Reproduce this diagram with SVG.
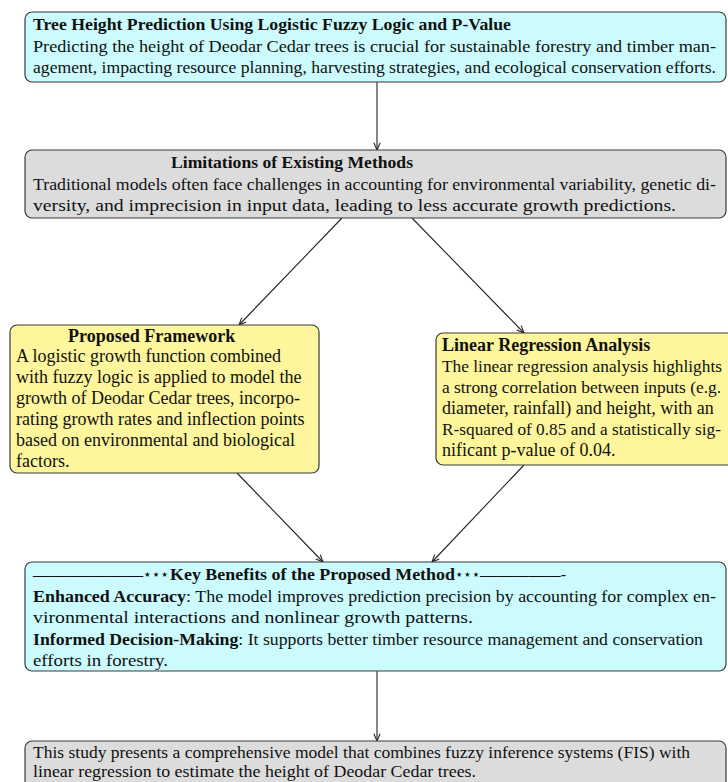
<svg xmlns="http://www.w3.org/2000/svg" width="728" height="782" viewBox="0 0 728 782">
<style>
text{font-family:"Liberation Serif","Times New Roman",serif;font-size:17.5px;fill:#111}
.b{font-weight:bold}
.y{font-size:18px}
.r{font-size:17px}
.box{stroke:#3a3a3a;stroke-width:1.2}
.cyan{fill:#cbfbfd}
.gray{fill:#dcdcdc}
.yel{fill:#fdf69c}
.st{font-family:"DejaVu Sans",sans-serif;font-size:14px}
.edge{stroke:#222;stroke-width:1.1;fill:none;marker-end:url(#arr)}
</style>
<defs>
<marker id="arr" viewBox="0 0 10 10" refX="9" refY="5" markerWidth="9" markerHeight="9" orient="auto" markerUnits="userSpaceOnUse">
<path d="M1,1.5 L9,5 L1,8.5" fill="none" stroke="#222" stroke-width="1.2"/>
</marker>
</defs>
<rect width="728" height="782" fill="#fff"/>
<g id="edges">
<line class="edge" x1="377" y1="82" x2="377" y2="150"/>
<line class="edge" x1="342" y1="218" x2="239" y2="325"/>
<line class="edge" x1="412" y1="218" x2="524" y2="333"/>
<line class="edge" x1="237" y1="473" x2="323" y2="562"/>
<line class="edge" x1="524" y1="465" x2="432" y2="562"/>
<line class="edge" x1="377" y1="671" x2="377" y2="741"/>
</g>
<g id="n1">
<rect class="box cyan" x="25" y="12" width="701" height="70" rx="7"/>
<text class="b" x="33" y="30" textLength="478" lengthAdjust="spacingAndGlyphs">Tree Height Prediction Using Logistic Fuzzy Logic and P-Value</text>
<text x="33" y="52" textLength="683" lengthAdjust="spacingAndGlyphs">Predicting the height of Deodar Cedar trees is crucial for sustainable forestry and timber man-</text>
<text x="33" y="73" textLength="683" lengthAdjust="spacingAndGlyphs">agement, impacting resource planning, harvesting strategies, and ecological conservation efforts.</text>
</g>
<g id="n2">
<rect class="box gray" x="25" y="150" width="701" height="68" rx="7"/>
<text class="b" x="171" y="168" textLength="242" lengthAdjust="spacingAndGlyphs">Limitations of Existing Methods</text>
<text x="33" y="190" textLength="683" lengthAdjust="spacingAndGlyphs">Traditional models often face challenges in accounting for environmental variability, genetic di-</text>
<text x="33" y="211" textLength="643" lengthAdjust="spacingAndGlyphs">versity, and imprecision in input data, leading to less accurate growth predictions.</text>
</g>
<g id="n3">
<rect class="box yel" x="10" y="325" width="309" height="148" rx="7"/>
<text class="b y" x="68" y="342">Proposed Framework</text>
<text class="y" x="16" y="362">A logistic growth function combined</text>
<text class="y" x="16" y="383">with fuzzy logic is applied to model the</text>
<text class="y" x="16" y="404">growth of Deodar Cedar trees, incorpo-</text>
<text class="y" x="16" y="425">rating growth rates and inflection points</text>
<text class="y" x="16" y="446">based on environmental and biological</text>
<text class="y" x="16" y="467">factors.</text>
</g>
<g id="n4">
<rect class="box yel" x="436" y="333" width="310" height="132" rx="7"/>
<text class="b y" x="442" y="351">Linear Regression Analysis</text>
<text class="r" x="442" y="372" textLength="280" lengthAdjust="spacingAndGlyphs">The linear regression analysis highlights</text>
<text class="r" x="442" y="393" textLength="279" lengthAdjust="spacingAndGlyphs">a strong correlation between inputs (e.g.</text>
<text class="y" x="442" y="414">diameter, rainfall) and height, with an</text>
<text class="r" x="442" y="435" textLength="279" lengthAdjust="spacingAndGlyphs">R-squared of 0.85 and a statistically sig-</text>
<text class="y" x="442" y="456">nificant p-value of 0.04.</text>
</g>
<g id="n5">
<rect class="box cyan" x="25" y="562" width="701" height="109" rx="7"/>
<text x="33" y="580"><tspan x="33" textLength="110" lengthAdjust="spacingAndGlyphs">——————</tspan><tspan class="st" x="143" dy="-1" textLength="26" lengthAdjust="spacingAndGlyphs">⋆⋆⋆</tspan><tspan class="b" x="170" dy="1" textLength="285" lengthAdjust="spacingAndGlyphs">Key Benefits of the Proposed Method</tspan><tspan class="st" x="455" dy="-1" textLength="25" lengthAdjust="spacingAndGlyphs">⋆⋆⋆</tspan><tspan x="480" dy="1" textLength="86" lengthAdjust="spacingAndGlyphs">—————-</tspan></text>
<text x="33" y="602" textLength="683" lengthAdjust="spacingAndGlyphs"><tspan class="b">Enhanced Accuracy</tspan>: The model improves prediction precision by accounting for complex en-</text>
<text x="33" y="623" textLength="440" lengthAdjust="spacingAndGlyphs">vironmental interactions and nonlinear growth patterns.</text>
<text x="33" y="645" textLength="670" lengthAdjust="spacingAndGlyphs"><tspan class="b">Informed Decision-Making</tspan>: It supports better timber resource management and conservation</text>
<text x="33" y="666" textLength="135" lengthAdjust="spacingAndGlyphs">efforts in forestry.</text>
</g>
<g id="n6">
<rect class="box gray" x="25" y="741" width="701" height="60" rx="7"/>
<text x="33" y="758" textLength="657" lengthAdjust="spacingAndGlyphs">This study presents a comprehensive model that combines fuzzy inference systems (FIS) with</text>
<text x="33" y="777" textLength="443" lengthAdjust="spacingAndGlyphs">linear regression to estimate the height of Deodar Cedar trees.</text>
</g>
</svg>
